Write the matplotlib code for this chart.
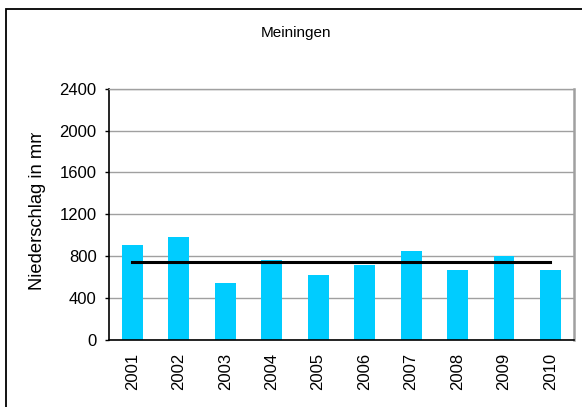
import matplotlib
matplotlib.use("Agg")
import matplotlib.pyplot as plt
from matplotlib.patches import Rectangle
from matplotlib.transforms import Bbox

plt.rcParams['font.family'] = ['Liberation Sans', 'DejaVu Sans']

# data
years = ['2001', '2002', '2003', '2004', '2005', '2006', '2007', '2008', '2009', '2010']
niederschlag = [907, 987, 547, 764, 621, 716, 850, 669, 805, 669]
mittel = [742] * len(years)
y_ticks = [0, 400, 800, 1200, 1600, 2000, 2400]

fig = plt.figure(figsize=(5.82, 4.07), dpi=100)
ax = fig.add_axes([109 / 582, 1 - 340 / 407, (573.7 - 109) / 582, (340 - 88.7) / 407])

x = list(range(len(years)))
ax.bar(x, niederschlag, width=0.45, color='#00ccff', zorder=2)
ax.plot(x, mittel, color='black', linewidth=2.2, zorder=3)

ax.set_xlim(-0.5, len(years) - 0.5)
ax.set_ylim(0, 2400)
ax.set_yticks(y_ticks)
ax.set_xticks(x)
ax.set_xticklabels(years, rotation=90, fontsize=12)
ax.tick_params(axis='x', length=0, pad=9.4)
ax.tick_params(axis='y', length=3.1, width=1, pad=5.8, labelsize=12, direction='out')
ax.yaxis.grid(True, color='#a0a0a0', linewidth=1.0, zorder=0)
ax.set_axisbelow(True)

for s in ['left', 'bottom']:
    ax.spines[s].set_color('black')
    ax.spines[s].set_linewidth(1.2)
ax.spines['top'].set_color('#a0a0a0')
ax.spines['top'].set_linewidth(1.0)
ax.spines['right'].set_color('#a0a0a0')
ax.spines['right'].set_linewidth(1.8)

# y label, clipped at the top like the reference
ylab = fig.text(38 / 582, 1 - 209 / 407, 'Niederschlag in mm', rotation=90,
                ha='center', va='center', fontsize=13.2)
ylab.set_clip_on(True)
ylab.set_clip_box(Bbox.from_extents(0, 0, 582, 407 - 133))

fig.text(295.7 / 582, 1 - 33 / 407, 'Meiningen', ha='center', va='center', fontsize=11)

# outer chart frame
top = 1 - 9 / 407
fig.patches.append(Rectangle((5.7 / 582, -0.2), 1.5, top + 0.2, transform=fig.transFigure,
                             fill=False, edgecolor='black', linewidth=1.3, clip_on=False))

fig.savefig('out.png', dpi=100)
